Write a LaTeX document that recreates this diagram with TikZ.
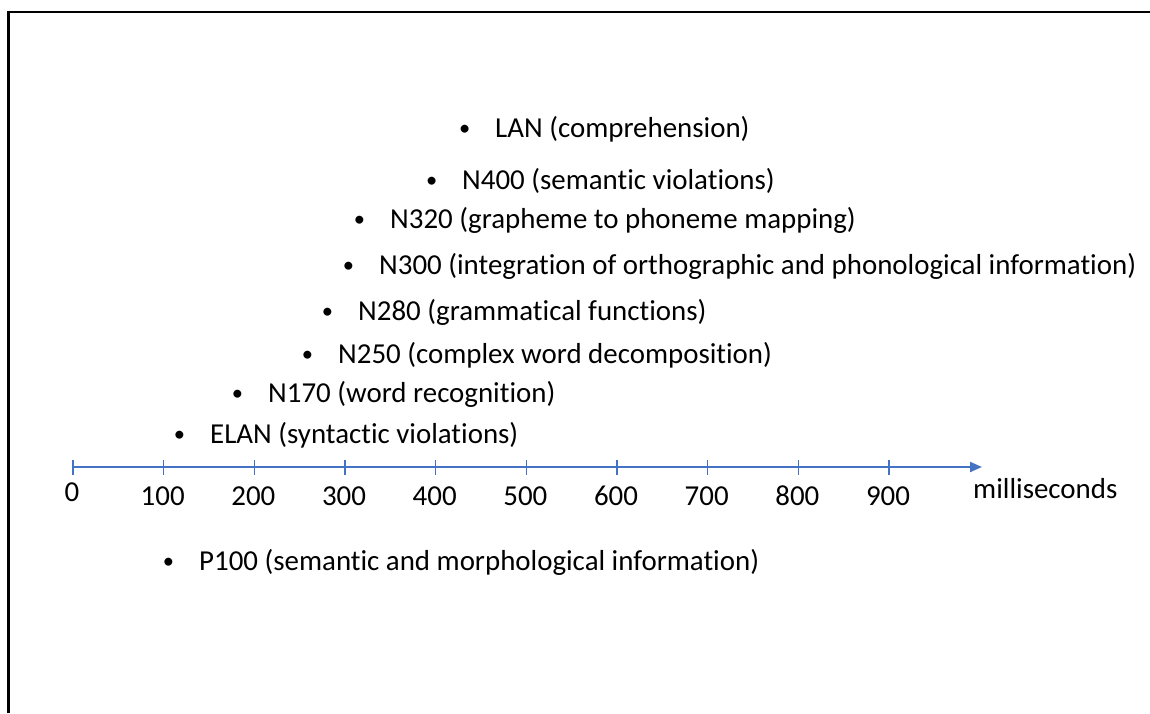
\documentclass[tikz,border=0pt]{standalone}
\usepackage{fontspec}
\setmainfont[Ligatures=NoCommon]{Carlito}
\usetikzlibrary{arrows.meta,calc}
\definecolor{axisblue}{HTML}{4472C4}
\tikzset{
  lbl/.style={anchor=base west, inner sep=0pt, font=\fontsize{28.9}{34}\selectfont, text=black},
  num/.style={anchor=base, inner sep=0pt, font=\fontsize{28.9}{34}\selectfont, text=black},
  axisline/.style={draw=axisblue, line width=2pt, -{Triangle[length=12pt,width=10pt]}},
  tickmark/.style={draw=axisblue, line width=1.5pt},
  frameline/.style={draw=black, line width=2.5pt}
}
% bullet hanging to the left of an item's text
\newcommand{\bul}{\llap{\raisebox{1.5pt}{\fontsize{22.5}{24}\selectfont\textbullet}\hspace{25pt}}}
\begin{document}
\begin{tikzpicture}[x=1pt,y=-1pt]
\useasboundingbox (0,0) rectangle (1150,713);
% open frame along the top and left
\draw[frameline] (8.5,713) -- (8.5,12) -- (1150,12);

% time axis
\coordinate (origin) at (73,467);
\coordinate (axend) at (982,467);
\draw[axisline] (origin) -- (axend);
\foreach \i in {0,...,9} {
  \draw[tickmark] ($(origin)+(90.67*\i,-7.5)$) -- ++(0,15);
}
\node[num] (t0) at (72,501) {0};
\foreach \i in {1,...,9} {
  \node[num] (t\i) at ($(origin)+(90.67*\i-1,38)$) {\i00};
}
\node[lbl] (unit) at (973,498) {milliseconds};

% components
\node[lbl] (lan)  at (495,137) {\bul LAN (comprehension)};
\node[lbl] (n400) at (462,189) {\bul N400 (semantic violations)};
\node[lbl] (n320) at (390,228) {\bul N320 (grapheme to phoneme mapping)};
\node[lbl] (n300) at (379,274) {\bul N300 (integration of orthographic and phonological information)};
\node[lbl] (n280) at (358,320) {\bul N280 (grammatical functions)};
\node[lbl] (n250) at (338,363) {\bul N250 (complex word decomposition)};
\node[lbl] (n170) at (268,402) {\bul N170 (word recognition)};
\node[lbl] (elan) at (210,443) {\bul ELAN (syntactic violations)};
\node[lbl] (p100) at (199,570) {\bul P100 (semantic and morphological information)};
\end{tikzpicture}
\end{document}
